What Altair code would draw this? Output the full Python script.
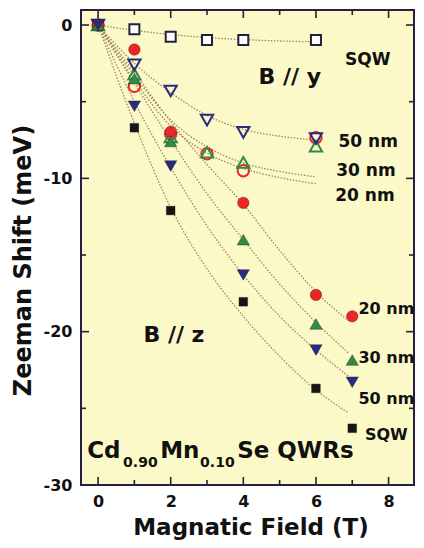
import altair as alt
import pandas as pd

# ---------------- data ----------------
# B // y  (open symbols)
by_x = [0, 1, 2, 3, 4, 6]
by_sqw = [0, -0.28, -0.76, -0.98, -0.98, -0.98]
by_50 = [0, -2.6, -4.3, -6.2, -7.0, -7.4]
by_30 = [0, -3.2, -7.3, -8.3, -8.96, -7.9]
by_20 = [0, -4.0, -7.1, -8.4, -9.5, -7.35]

# B // z  (filled symbols)
bz_x = [0, 1, 2, 4, 6, 7]
bz_sqw = [0, -6.7, -12.1, -18.05, -23.7, -26.3]
bz_50 = [0, -5.3, -9.2, -16.3, -21.2, -23.3]
bz_30 = [0, -3.5, -7.6, -14.0, -19.5, -21.85]
bz_20 = [0, -1.6, -6.96, -11.6, -17.6, -19.0]

# dotted fit curves
fit_by_x = [0, 1, 2, 3, 4, 5, 6]
fit_by_sqw = [0, -0.35, -0.62, -0.82, -0.95, -1.04, -1.1]
fit_by_50 = [0, -2.5, -4.4, -5.9, -6.8, -7.25, -7.5]
fit_by_30 = [0, -3.3, -6.2, -7.95, -9.0, -9.55, -9.9]
fit_by_20 = [0, -3.6, -6.6, -8.35, -9.35, -9.95, -10.35]

fit_bz_x = [0, 1, 2, 3, 4, 5, 6, 6.9]
fit_bz_sqw = [0, -6.4, -11.9, -15.9, -19.0, -21.6, -23.8, -25.3]
fit_bz_50 = [0, -5.0, -9.3, -13.1, -16.3, -19.0, -21.2, -22.9]
fit_bz_30 = [0, -3.8, -7.5, -11.0, -14.0, -16.9, -19.4, -21.4]
fit_bz_20 = [0, -3.1, -6.3, -9.1, -11.7, -14.7, -17.4, -19.3]

# axis ticks
x_major = [0, 2, 4, 6, 8]
x_minor = [1, 3, 5, 7]
y_major = [0, -10, -20, -30]
y_minor = [-5, -15, -25]
x_labels = [0, 2, 4, 6, 8]
y_labels = [0, -10, -20, -30]

# annotations
ann_text = ["SQW", "B // y", "50 nm", "30 nm", "20 nm",
            "20 nm", "30 nm", "50 nm", "SQW", "B // z"]
ann_x = [6.80, 4.42, 6.62, 6.56, 6.53, 7.17, 7.17, 7.17, 7.35, 1.25]
ann_y = [-2.62, -3.85, -7.97, -9.86, -11.49, -18.86, -22.06, -24.73, -27.07, -20.67]
ann_size = [17, 22, 17, 17, 17, 16, 16, 16, 16, 22]

formula_text = ["Cd", "0.90", "Mn", "0.10", "Se QWRs"]
formula_x = [-0.30, 0.69, 1.71, 2.81, 3.83]
formula_y = [-28.24, -28.83, -28.24, -28.83, -28.24]
formula_size = [23, 14, 23, 14, 23]

# ---------------- chart ----------------
XMIN, XMAX = -0.47, 8.70
YMIN, YMAX = -30, 0.98
FONT = "DejaVu Sans"
AX = "#262040"
W, H = 333, 475

xscale = alt.Scale(domain=[XMIN, XMAX], nice=False, zero=False)
yscale = alt.Scale(domain=[YMIN, YMAX], nice=False, zero=False)

xaxis = alt.Axis(values=x_labels, tickSize=0, domain=False, grid=False,
                 labelExpr="datum.value",
                 labelFont=FONT, labelFontSize=16, labelFontWeight="bold",
                 labelColor="#111", labelPadding=8, labelFlush=False,
                 title="Magnatic Field (T)", titleFont=FONT, titleFontSize=23,
                 titleFontWeight="bold", titleColor="#111",
                 titleX=(420 - 81) / 2, titleY=49, titleAlign="center",
                 titleBaseline="alphabetic")
yaxis = alt.Axis(values=y_labels, tickSize=0, domain=False, grid=False,
                 labelExpr="datum.value",
                 labelFont=FONT, labelFontSize=16, labelFontWeight="bold",
                 labelColor="#111", labelPadding=9, labelFlush=False,
                 title="Zeeman Shift (meV)", titleFont=FONT, titleFontSize=24,
                 titleFontWeight="bold", titleColor="#111",
                 titleX=-58, titleY=250, titleAngle=270, titleAlign="center",
                 titleBaseline="middle")

X = alt.X("x:Q", scale=xscale, axis=xaxis)
Y = alt.Y("y:Q", scale=yscale, axis=yaxis)


def curves(xs, series):
    rows = []
    for name, ys in series.items():
        for a, b in zip(xs, ys):
            rows.append({"x": a, "y": b, "s": name})
    return pd.DataFrame(rows)


fit_df = pd.concat([
    curves(fit_by_x, {"y_sqw": fit_by_sqw, "y_50": fit_by_50,
                      "y_30": fit_by_30, "y_20": fit_by_20}),
    curves(fit_bz_x, {"z_sqw": fit_bz_sqw, "z_50": fit_bz_50,
                      "z_30": fit_bz_30, "z_20": fit_bz_20}),
])

lines = alt.Chart(fit_df).mark_line(
    interpolate="monotone", strokeDash=[1.5, 1.6], strokeWidth=1.3,
    color="#A08658", clip=True
).encode(x=X, y=Y, detail="s:N")


def pts(xs, ys, shape, size, color, filled, sw=1.0):
    df = pd.DataFrame({"x": xs, "y": ys})
    if filled:
        m = alt.Chart(df).mark_point(shape=shape, size=size, filled=True,
                                     color=color, opacity=1,
                                     stroke="#1a1a1a", strokeWidth=0.4)
    else:
        m = alt.Chart(df).mark_point(shape=shape, size=size, filled=False,
                                     color=color, opacity=1, strokeWidth=sw)
    return m.encode(x=X, y=Y)


RED = "#EE2426"
GREEN = "#2E8C45"
NAVY = "#2A2A80"
BLACK = "#151515"

open_layers = [
    alt.Chart(pd.DataFrame({"x": by_x, "y": by_sqw})).mark_point(
        shape="square", size=100, filled=True, fill="white", stroke=AX,
        strokeWidth=2, opacity=1).encode(x=X, y=Y),
    pts(by_x, by_20, "circle", 130, RED, False, 2),
    pts(by_x, by_30, "triangle-up", 150, GREEN, False, 2),
    pts(by_x, by_50, "triangle-down", 150, NAVY, False, 2),
]
filled_layers = [
    pts(bz_x, bz_sqw, "square", 75, BLACK, True),
    pts(bz_x, bz_20, "circle", 130, RED, True),
    pts(bz_x, bz_30, "triangle-up", 150, GREEN, True),
    pts(bz_x, bz_50, "triangle-down", 150, NAVY, True),
]


def tick_df(vals, other, key):
    rows = []
    for v in vals:
        for o in other:
            rows.append({key: v, ("y" if key == "x" else "x"): o})
    return pd.DataFrame(rows)


tx_major = alt.Chart(tick_df(x_major, [YMIN, YMAX], "x")).mark_tick(
    orient="vertical", size=16, thickness=1.6, color=AX, clip=True,
    opacity=1).encode(x=X, y=Y)
tx_minor = alt.Chart(tick_df(x_minor, [YMIN, YMAX], "x")).mark_tick(
    orient="vertical", size=10, thickness=1.6, color=AX, clip=True,
    opacity=1).encode(x=X, y=Y)
ty_major = alt.Chart(tick_df(y_major, [XMIN, XMAX], "y")).mark_tick(
    orient="horizontal", size=16, thickness=1.6, color=AX, clip=True,
    opacity=1).encode(x=X, y=Y)
ty_minor = alt.Chart(tick_df(y_minor, [XMIN, XMAX], "y")).mark_tick(
    orient="horizontal", size=10, thickness=1.6, color=AX, clip=True,
    opacity=1).encode(x=X, y=Y)

ann_df = pd.DataFrame({"t": ann_text, "x": ann_x, "y": ann_y, "fs": ann_size})
ann = alt.Chart(ann_df).mark_text(
    font=FONT, fontWeight="bold", align="left", baseline="alphabetic",
    color="#111").encode(x=X, y=Y, text="t:N",
                         size=alt.Size("fs:Q", scale=None, legend=None))

form_df = pd.DataFrame({"t": formula_text, "x": formula_x, "y": formula_y,
                        "fs": formula_size})
form = alt.Chart(form_df).mark_text(
    font=FONT, fontWeight="bold", align="left", baseline="alphabetic",
    color="#111").encode(x=X, y=Y, text="t:N",
                         size=alt.Size("fs:Q", scale=None, legend=None))

chart = alt.layer(
    lines, *open_layers, *filled_layers,
    tx_major, tx_minor, ty_major, ty_minor, ann, form
).properties(
    width=W, height=H,
    autosize=alt.AutoSizeParams(type="none"),
    padding={"left": 73, "top": 2, "right": 2, "bottom": 55},
    background="white",
).configure_view(
    fill="#FCF9C8", stroke=AX, strokeWidth=2
)

chart.save("out.html", embed_options={"renderer": "svg", "actions": False})
